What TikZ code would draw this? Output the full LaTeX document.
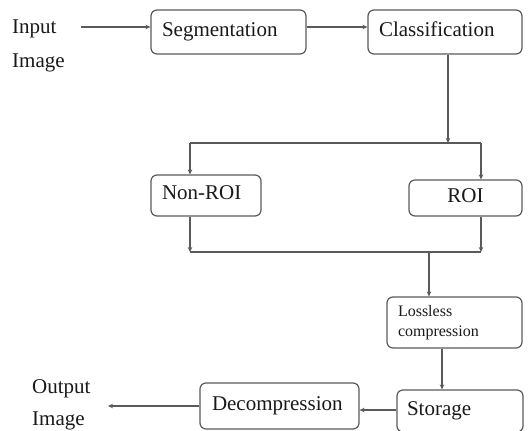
\documentclass[tikz,border=0pt]{standalone}
\usepackage{fontspec}
\setmainfont{Liberation Serif}
\usetikzlibrary{arrows.meta, positioning, calc}

\definecolor{linegray}{RGB}{90,90,90}
\definecolor{textgray}{RGB}{25,25,25}

\tikzset{
    blk/.style={draw=linegray, line width=1.2pt, rounded corners=6pt, inner xsep=11pt, inner ysep=0pt,
        align=left, text=textgray, font=\fontsize{21}{24}\selectfont},
    oneline/.style={text height=13pt, text depth=5pt},
    lbl/.style={anchor=base west, inner sep=0pt, text=textgray, font=\fontsize{21}{24}\selectfont},
    flow/.style={draw=linegray, line width=1.2pt, -{Stealth[length=5pt, width=4.5pt]}},
    link/.style={draw=linegray, line width=1.2pt}
}

\begin{document}
\begin{tikzpicture}[x=1pt, y=-1pt]
    \useasboundingbox (0,0) rectangle (528,431);

    % Define the blocks
    \node[blk, oneline, minimum height=44pt, text width=133pt] (seg) at (228.5,32) {Segmentation};
    \node[blk, oneline, minimum height=44pt, text width=132pt] (cls) at (445,32) {Classification};
    \node[blk, oneline, minimum height=41pt, text width=88pt] (nonroi) at (206,195.5) {Non-ROI};
    \node[blk, oneline, minimum height=36pt, text width=91pt, align=center] (roi) at (465.5,198) {ROI};
    \node[blk, minimum height=51pt, text width=113pt, font=\fontsize{16}{20}\selectfont] (lossless) at (454.5,322.5) {Lossless\\compression};
    \node[blk, oneline, minimum height=42pt, text width=106pt, inner xsep=10pt] (storage) at (460,411) {Storage};
    \node[blk, oneline, minimum height=46pt, text width=135pt, inner xsep=12pt] (decomp) at (279.5,406) {Decompression};

    % Place the free texts
    \node[lbl] (in1) at (12,33) {Input};
    \node[lbl] (in2) at (12,67) {Image};
    \node[lbl] (out1) at (32,393) {Output};
    \node[lbl] (out2) at (32,425) {Image};

    % Define the junction points
    \coordinate (inA) at (81,27);
    \coordinate (s1) at (448,143);
    \coordinate (l1) at (190,143);
    \coordinate (r1) at (481,143);
    \coordinate (l2) at (190,252);
    \coordinate (r2) at (481,252);
    \coordinate (m2) at (429,252);
    \coordinate (outA) at (108,406);

    % Draw the connectors
    \draw[flow] (inA) -- (inA -| seg.west);
    \draw[flow] (seg.east |- inA) -- (cls.west |- inA);
    \draw[flow] (s1 |- cls.south) -- (s1);
    \draw[link] (l1) -- (r1);
    \draw[flow] (l1) -- (l1 |- nonroi.north);
    \draw[flow] (r1) -- (r1 |- roi.north);
    \draw[flow] (l2 |- nonroi.south) -- (l2);
    \draw[flow] (r2 |- roi.south) -- (r2);
    \draw[link] (l2) -- (r2);
    \draw[flow] (m2) -- (m2 |- lossless.north);
    \draw[flow] ($(lossless.south)+(-12.5,0)$) -- ($(lossless.south |- storage.north)+(-12.5,0)$);
    \draw[flow] ($(storage.west)+(0,-1)$) -- ($(decomp.east |- storage.west)+(0,-1)$);
    \draw[flow] (decomp.west) -- (outA);

\end{tikzpicture}
\end{document}
